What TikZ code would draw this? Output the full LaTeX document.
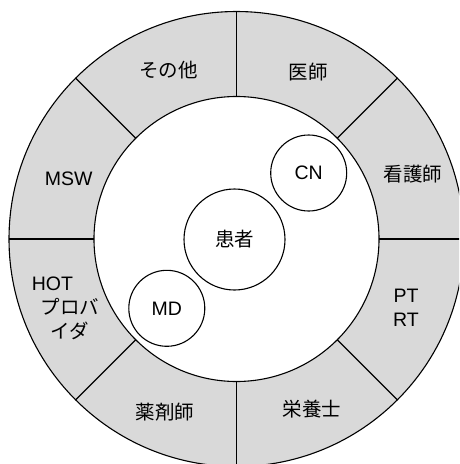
\documentclass[tikz,border=0pt]{standalone}
\usepackage{fontspec}
\setmainfont{Liberation Sans}
\newfontfamily\jp{Noto Sans CJK JP}
\definecolor{ringgray}{HTML}{D9D9D9}
\begin{document}
\begin{tikzpicture}[x=1pt,y=-1pt,line width=1.1pt,
  lbl/.style={font=\fontsize{19.5}{24}\selectfont, align=center, inner sep=0pt},
  jlbl/.style={font=\jp\fontsize{19.5}{24}\selectfont, align=center, inner sep=0pt},
  role/.style={circle, draw, fill=white, inner sep=0pt, line width=1.1pt}]
\useasboundingbox (0,0) rectangle (459,464);
\clip (0,0) rectangle (459,464);
\coordinate (c) at (236.5,239);
% ring
\fill[ringgray] (c) circle (227.5pt);
\draw (c) circle (227.5pt);
\draw[fill=white] (c) circle (142.5pt);
\foreach \a in {0,45,...,315}
  \draw ([shift={(\a:142.5pt)}]c) -- ([shift={(\a:227.5pt)}]c);
% sector labels
\node[jlbl] (sonota) at (168.3,70) {その他};
\node[jlbl] (ishi) at (308.3,71.7) {医師};
\node[jlbl] (kango) at (412.8,174) {看護師};
\node[lbl] (ptrt) at (406,308) {PT\\RT};
\node[jlbl] (eiyo) at (312.2,409.2) {栄養士};
\node[jlbl] (yakuzai) at (165,412.5) {薬剤師};
\node[lbl] (hot) at (70,308) {HOT\hspace*{35pt}\\{\jp プロバ}\\{\jp イダ}};
\node[lbl] (msw) at (68.8,178.7) {MSW};
% inner circles
\node[role, minimum size=101pt, jlbl] (kanja) at (234.5,239.5) {患者};
\node[role, minimum size=76pt, lbl] (cn) at (308.7,173) {CN};
\node[role, minimum size=76pt, lbl] (md) at (166.8,308.3) {MD};
\end{tikzpicture}
\end{document}
